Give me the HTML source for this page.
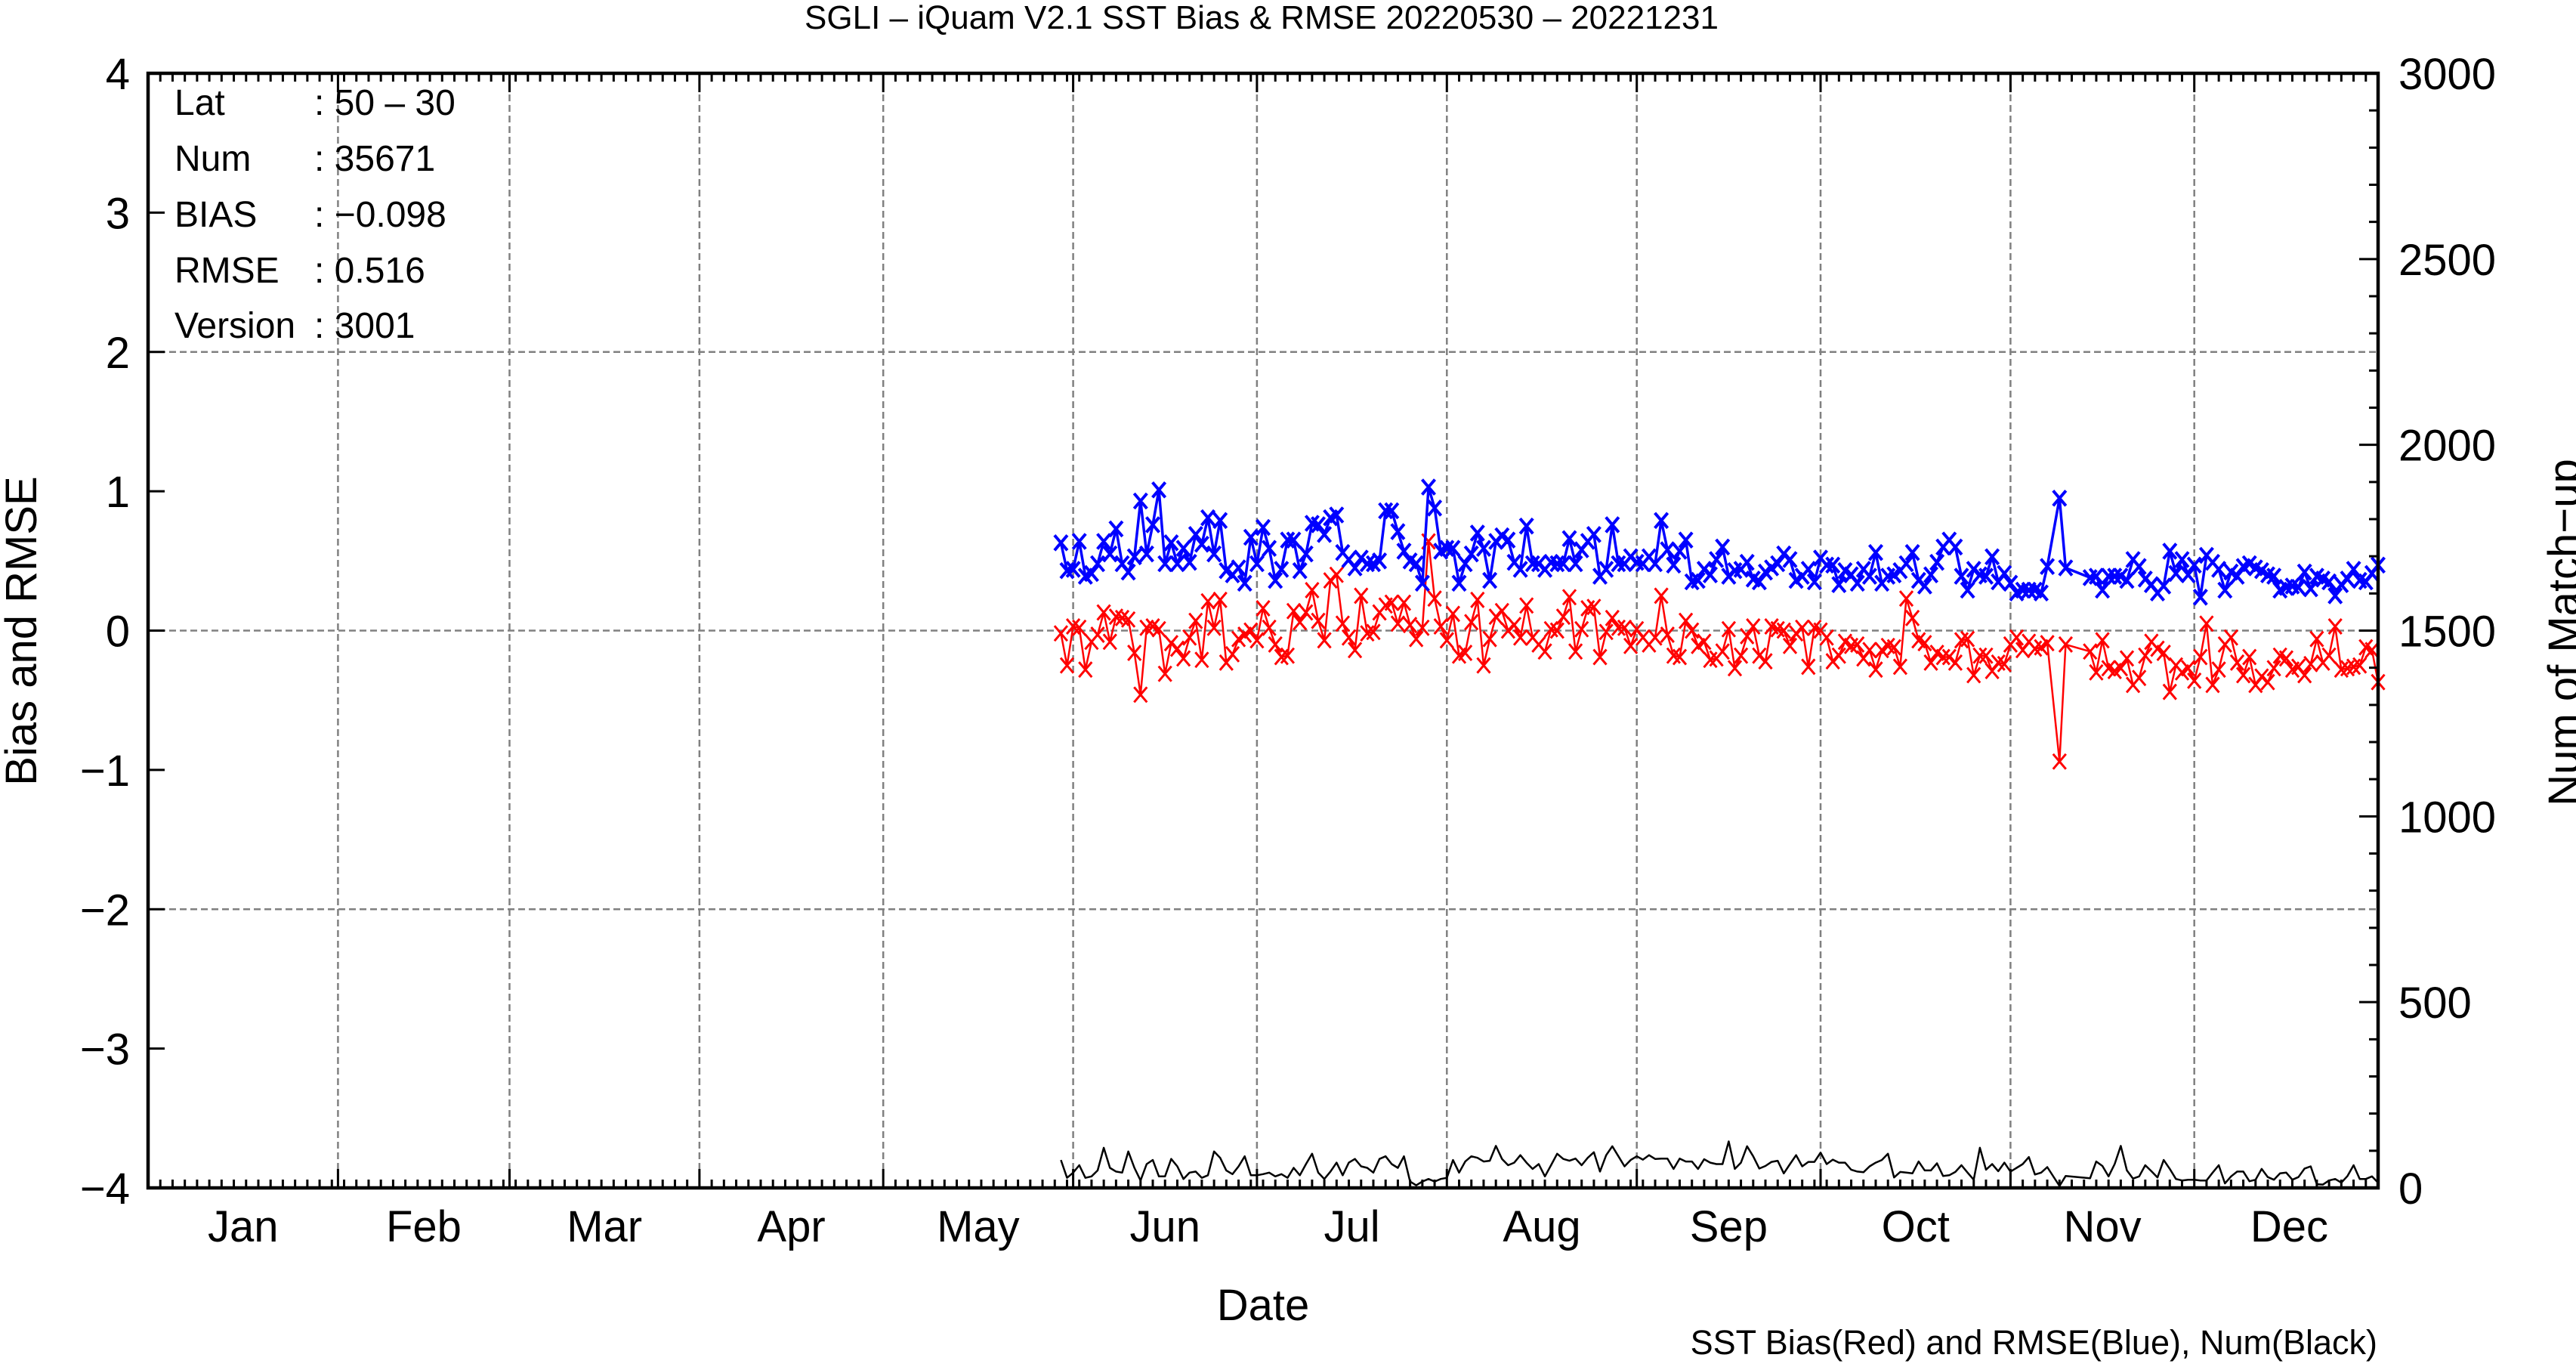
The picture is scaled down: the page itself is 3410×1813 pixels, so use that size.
<!DOCTYPE html>
<html><head><meta charset="utf-8">
<style>
html,body{margin:0;padding:0;background:#fff;}
svg{display:block;font-family:"Liberation Sans",Arial,sans-serif;}
</style></head>
<body>
<svg id="chart" xmlns="http://www.w3.org/2000/svg" width="3410" height="1813" viewBox="0 0 3410 1813">
<rect x="0" y="0" width="3410" height="1813" fill="#fff"/>
<text x="1670" y="38" font-size="44" text-anchor="middle">SGLI – iQuam V2.1 SST Bias &amp; RMSE 20220530 – 20221231</text>
<g id="grid"></g>
<g id="series"></g>
<g id="axes"></g>
<g font-size="48">
  <text x="231" y="152">Lat</text>
  <text x="416" y="152">: 50 – 30</text>
  <text x="231" y="226">Num</text>
  <text x="416" y="226">: 35671</text>
  <text x="231" y="300">BIAS</text>
  <text x="416" y="300">: −0.098</text>
  <text x="231" y="374">RMSE</text>
  <text x="416" y="374">: 0.516</text>
  <text x="231" y="447">Version</text>
  <text x="416" y="447">: 3001</text>
</g>
<text x="1672" y="1747" font-size="58" text-anchor="middle">Date</text>
<text transform="translate(48,835) rotate(-90)" font-size="58" text-anchor="middle">Bias and RMSE</text>
<text transform="translate(3414,837) rotate(-90)" font-size="58" text-anchor="middle">Num of Match−up</text>
<text x="3147" y="1792" font-size="45" text-anchor="end">SST Bias(Red) and RMSE(Blue), Num(Black)</text>
</svg>
<script>
const startDay = 149;
const biasValues = [-0.02,-0.25,0.03,0.02,-0.28,-0.08,-0.03,0.13,-0.08,0.10,0.09,0.08,-0.16,-0.46,0.02,0.03,0.01,-0.31,-0.09,-0.13,-0.20,-0.05,0.07,-0.21,0.21,0.02,0.22,-0.23,-0.17,-0.06,-0.03,0.00,-0.07,0.16,0.02,-0.10,-0.19,-0.18,0.14,0.06,0.13,0.29,0.07,-0.07,0.36,0.40,0.05,-0.05,-0.14,0.25,-0.02,-0.01,0.13,
0.18,0.20,0.05,0.20,0.04,-0.06,0.02,0.64,0.23,0.03,-0.07,0.12,-0.18,-0.16,0.06,0.22,-0.25,-0.06,0.10,0.14,0.00,0.04,-0.05,0.18,-0.05,-0.10,-0.15,0.01,0.00,0.10,0.24,-0.15,0.01,0.16,0.17,-0.19,-0.01,0.09,0.02,0.02,-0.11,0.01,-0.05,-0.10,-0.05,0.25,-0.03,-0.18,-0.19,0.07,0.00,-0.11,-0.08,
-0.21,-0.20,-0.15,0.01,-0.27,-0.18,-0.04,0.03,-0.18,-0.22,0.03,0.01,0.00,-0.11,-0.02,0.02,-0.26,0.02,0.00,-0.05,-0.22,-0.18,-0.08,-0.11,-0.10,-0.20,-0.14,-0.28,-0.14,-0.11,-0.12,-0.26,0.23,0.09,-0.07,-0.09,-0.23,-0.16,-0.19,-0.19,-0.23,-0.07,-0.06,-0.32,-0.18,-0.18,-0.29,-0.23,-0.24,-0.10,-0.05,-0.14,-0.08,-0.13,
-0.12,-0.09,null,-0.94,-0.10,null,null,null,-0.15,-0.30,-0.07,-0.27,-0.29,-0.27,-0.20,-0.39,-0.34,-0.18,-0.08,-0.13,-0.16,-0.44,-0.25,-0.30,-0.27,-0.36,-0.19,0.05,-0.39,-0.28,-0.10,-0.05,-0.23,-0.32,-0.19,-0.39,-0.33,-0.37,-0.27,-0.18,-0.20,-0.28,-0.26,-0.32,-0.24,-0.06,-0.23,-0.18,0.03,-0.28,-0.27,-0.26,-0.25,-0.12,-0.14,-0.37];
const rmseValues = [0.63,0.43,0.44,0.64,0.39,0.41,0.48,0.64,0.55,0.73,0.48,0.42,0.53,0.93,0.55,0.76,1.01,0.48,0.63,0.48,0.59,0.49,0.69,0.62,0.81,0.55,0.79,0.43,0.40,0.45,0.34,0.67,0.48,0.74,0.59,0.36,0.44,0.65,0.65,0.43,0.55,0.77,0.76,0.69,0.81,0.83,0.56,0.51,0.45,0.52,0.48,0.48,0.50,
0.86,0.86,0.71,0.57,0.50,0.48,0.34,1.03,0.88,0.57,0.59,0.59,0.34,0.48,0.55,0.70,0.59,0.36,0.64,0.68,0.65,0.49,0.44,0.75,0.48,0.48,0.44,0.49,0.48,0.48,0.66,0.48,0.58,0.64,0.69,0.39,0.44,0.76,0.48,0.48,0.53,0.49,0.48,0.53,0.48,0.79,0.58,0.47,0.57,0.65,0.35,0.36,0.44,
0.40,0.51,0.60,0.39,0.43,0.44,0.49,0.37,0.35,0.42,0.45,0.48,0.55,0.51,0.36,0.39,0.44,0.35,0.52,0.47,0.47,0.33,0.43,0.40,0.34,0.44,0.39,0.56,0.34,0.39,0.40,0.43,0.48,0.56,0.36,0.32,0.40,0.49,0.60,0.65,0.60,0.39,0.29,0.44,0.40,0.39,0.53,0.35,0.41,0.34,0.27,0.29,0.29,0.29,
0.27,0.46,null,0.95,0.45,null,null,null,0.38,0.39,0.29,0.39,0.39,0.39,0.36,0.51,0.46,0.37,0.33,0.27,0.32,0.57,0.41,0.51,0.40,0.47,0.24,0.54,0.49,0.44,0.29,0.42,0.39,0.46,0.48,0.45,0.43,0.40,0.39,0.29,0.31,0.32,0.31,0.42,0.30,0.39,0.37,0.35,0.25,0.33,0.37,0.44,0.36,0.35,0.41,0.47];
const numValues = [75,27,41,61,27,31,47,108,54,44,41,98,54,20,64,75,31,31,78,58,24,41,44,27,34,98,81,47,37,58,85,34,34,37,41,31,37,27,54,34,64,92,41,24,44,68,34,68,78,58,54,41,78,
85,64,54,85,17,7,17,24,17,24,27,75,41,71,85,81,71,73,113,78,61,68,88,68,51,64,31,61,92,78,73,79,61,81,96,44,88,112,85,58,75,85,76,88,78,79,79,51,79,71,71,51,77,
68,64,64,125,51,68,112,85,52,59,70,73,39,64,88,58,70,70,95,64,76,68,68,49,44,42,58,68,75,92,28,43,41,39,71,47,47,66,32,34,43,61,41,22,108,49,64,45,68,44,54,64,83,36,
41,56,null,5,32,null,null,null,26,71,59,31,64,113,47,25,31,61,45,28,75,51,24,20,22,22,20,20,41,61,12,31,44,44,18,22,51,29,22,39,41,22,29,52,58,10,9,20,24,14,32,61,24,24,31,14];
const monthLabels = ["Jan","Feb","Mar","Apr","May","Jun","Jul","Aug","Sep","Oct","Nov","Dec"];
const monthStarts = [0,31,59,90,120,151,181,212,243,273,304,334,365];
const yTicks = [-4,-3,-2,-1,0,1,2,3,4];
const yGrid = [-2,0,2];
const y2Ticks = [0,500,1000,1500,2000,2500,3000];

const L=196,R=3148,T=97,B=1572;
const NS="http://www.w3.org/2000/svg";
function X(d){return L+d*(R-L)/364;}
function Y(v){return B-(v+4)*(B-T)/8;}
function Y2(c){return B-c*(B-T)/3000;}
function mk(tag,attrs,parent){const e=document.createElementNS(NS,tag);for(const k in attrs)e.setAttribute(k,attrs[k]);parent.appendChild(e);return e;}
const grid=document.getElementById('grid'),axes=document.getElementById('axes'),ser=document.getElementById('series');

for(let i=1;i<12;i++){
  const x=X(monthStarts[i]);
  const g=mk('line',{x1:x,x2:x,y1:T,y2:B,stroke:'#808080','stroke-width':2.5,'stroke-dasharray':'9,5'},grid);
  
  
}
yGrid.forEach(v=>{
  const g=mk('line',{x1:L,x2:R,y1:Y(v),y2:Y(v),stroke:'#808080','stroke-width':2.5,'stroke-dasharray':'9,5'},grid);
  
  
});

function drawSeries(vals,yf,color,lw,marker,name){
  const pts=[];
  vals.forEach((v,i)=>{if(v!==null&&v!==undefined)pts.push([X(startDay+i),yf(v)]);});
  const pl=mk('polyline',{points:pts.map(p=>p[0].toFixed(1)+','+p[1].toFixed(1)).join(' '),fill:'none',stroke:color,'stroke-width':lw,'stroke-linejoin':'round'},ser);
  
  
  if(marker){
    let d='';
    pts.forEach(p=>{const a=8.5,b=10;d+=`M${(p[0]-a).toFixed(1)},${(p[1]-b).toFixed(1)}L${(p[0]+a).toFixed(1)},${(p[1]+b).toFixed(1)}M${(p[0]-a).toFixed(1)},${(p[1]+b).toFixed(1)}L${(p[0]+a).toFixed(1)},${(p[1]-b).toFixed(1)}`;});
    const m=mk('path',{d:d,fill:'none',stroke:color,'stroke-width':lw+0.5},ser);
    
    
  }
}
drawSeries(numValues,Y2,'#000',2.5,false,'num');
drawSeries(biasValues,Y,'#ff0000',2.5,true,'bias');
drawSeries(rmseValues,Y,'#0000ff',3.5,true,'rmse');

// x ticks
let td='';
for(let d=0;d<=364;d+=2){const x=X(d);td+=`M${x},${B}V${B-11}M${x},${T}V${T+11}`;}
for(let i=0;i<12;i++){const x=X(monthStarts[i]);td+=`M${x},${B}V${B-25}M${x},${T}V${T+25}`;}
yTicks.forEach(v=>{td+=`M${L},${Y(v)}H${L+22}`;});
for(let c=0;c<=3000;c+=100){const len=(c%500===0)?25:12;td+=`M${R},${Y2(c)}H${R-len}`;}
const tk=mk('path',{d:td,stroke:'#000','stroke-width':3,fill:'none'},axes);



const fr=mk('rect',{x:L,y:T,width:R-L,height:B-T,fill:'none',stroke:'#000','stroke-width':4.5},axes);



for(let i=0;i<12;i++){
  const t=mk('text',{x:X((monthStarts[i]+monthStarts[i+1])/2),y:1643,'font-size':58,'text-anchor':'middle'},axes);
  t.textContent=monthLabels[i];
  
  
}
yTicks.forEach(v=>{
  const t=mk('text',{x:172,y:Y(v)+21,'font-size':58,'text-anchor':'end'},axes);
  t.textContent=(v<0?'−':'')+Math.abs(v);
  
  
});
y2Ticks.forEach(c=>{
  const t=mk('text',{x:3175,y:Y2(c)+21,'font-size':58,'text-anchor':'start'},axes);
  t.textContent=String(c);
  
  
});
</script>
</body></html>
